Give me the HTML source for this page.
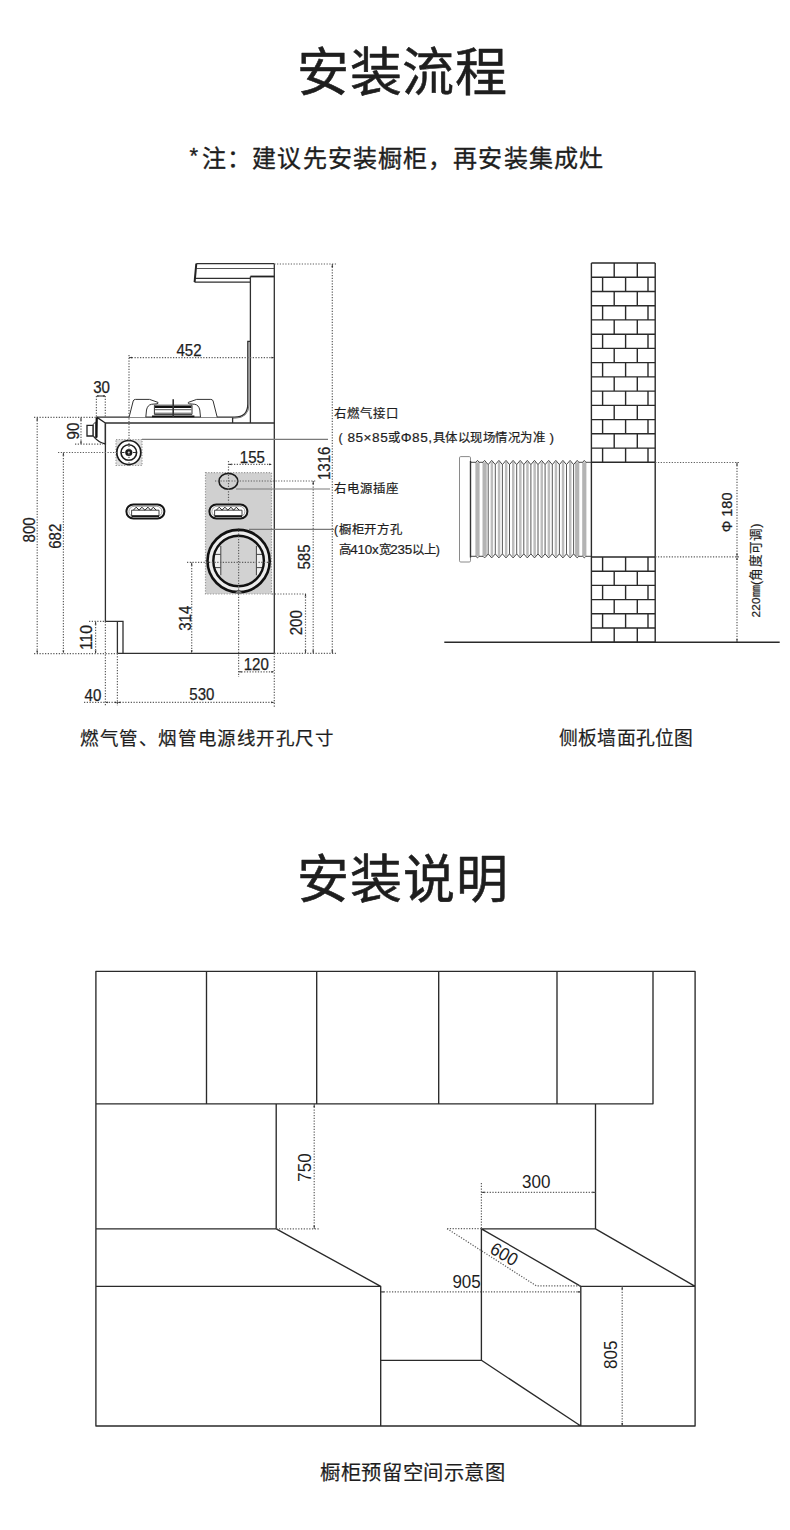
<!DOCTYPE html>
<html lang="zh-CN">
<head>
<meta charset="utf-8">
<title>安装流程</title>
<style>
html,body{margin:0;padding:0;background:#fff;}
body{width:790px;height:1530px;overflow:hidden;position:relative;font-family:"Liberation Sans",sans-serif;color:#1e1e1e;}
svg{position:absolute;left:0;top:0;}
svg text{font-family:"Liberation Sans",sans-serif;}
.t{fill:#1e1e1e;}
.tb{stroke:#1e1e1e;stroke-width:0.55;stroke-linejoin:round;}
.tm{stroke:#1e1e1e;stroke-width:0.35;stroke-linejoin:round;}
.ln{stroke:#2f2f2f;stroke-width:1.3;fill:none;}
.dt{stroke:#5e5e5e;stroke-width:1.2;stroke-dasharray:1.25 1.5;fill:none;}
.ts{stroke:#1e1e1e;stroke-width:0.25;}
.ts2{stroke:#1e1e1e;stroke-width:0.2;}
.gl{stroke:#888;stroke-width:1;fill:none;}
</style>
</head>
<body>
<svg width="790" height="1530" viewBox="0 0 790 1530">
<!-- Titles -->
<text class="t tb" x="296.8" y="91.3" font-size="52" textLength="210.3" lengthAdjust="spacing">安装流程</text>
<text class="t tm" x="189.4" y="162.6" font-size="22">*</text>
<text class="t tm" x="202" y="167" font-size="24" textLength="401" lengthAdjust="spacing">注：建议先安装橱柜，再安装集成灶</text>
<text class="t tb" x="296.8" y="898.3" font-size="52" textLength="210.8" lengthAdjust="spacing">安装说明</text>

<!-- Captions -->
<text class="t ts2" x="80" y="745" font-size="18.5" textLength="254" lengthAdjust="spacing">燃气管、烟管电源线开孔尺寸</text>
<text class="t ts2" x="559" y="745" font-size="18.8" textLength="134" lengthAdjust="spacing">侧板墙面孔位图</text>
<text class="t ts2" x="320" y="1480" font-size="20.3" textLength="185" lengthAdjust="spacing">橱柜预留空间示意图</text>

<!-- ============ UPPER LEFT DIAGRAM ============ -->
<g id="stove">
<defs>
<clipPath id="innerc"><circle cx="238.6" cy="561" r="24.5"/></clipPath>
</defs>
<!-- gray regions -->
<rect x="205.5" y="472.7" width="66" height="121.3" fill="#d0d0d0"/>
<rect x="205.5" y="472.7" width="66" height="121.3" class="dt" style="stroke:#999"/>
<rect x="116" y="439.5" width="26" height="26" fill="#dedede"/>
<rect x="116" y="439.5" width="26" height="26" class="dt" style="stroke:#999"/>
<!-- hood -->
<path class="ln" d="M196.3,263.7H274.3 M195.1,278.3H250.4 M194.6,282.2H250.4"/>
<path stroke="#555" stroke-width="1.1" fill="none" d="M196.3,268.5H274.3"/>
<path stroke="#222" stroke-width="2" fill="none" d="M196.3,263.7L194.6,282.2"/>
<path stroke="#222" stroke-width="1.8" fill="none" d="M250.4,276.5H274.3"/>
<path class="ln" d="M250.4,276.5V423 M274.3,263.7V653.3"/>
<!-- back panel -->
<path class="ln" d="M97,417.2H234.5Q247.8,417.2 247.8,404V341.5H250.4"/>
<path stroke="#777" stroke-width="1" fill="none" d="M249,343V404Q249,418.2 234.5,418.2H233"/>
<path class="ln" d="M232.6,417.5V423"/>
<!-- countertop -->
<path class="ln" d="M105.4,423H274.3"/>
<!-- front lip & knob -->
<path stroke="#222" stroke-width="1.3" fill="#fff" d="M97,417.4L105.4,423V444Q99,442.5 94.6,437.6L96.2,437.4Z"/>
<path stroke="#111" stroke-width="2" fill="none" d="M96.6,417.6V437.5"/>
<path stroke="#333" stroke-width="1" fill="#fff" d="M93,424.5L95.6,422V437.6L93,436Z"/>
<path stroke="#222" stroke-width="1.3" fill="#fff" d="M87,425.3H93V436H87Z"/>
<!-- burner -->
<path stroke="#333" stroke-width="1" fill="#fff" d="M129.1,417.2L133.2,401Q133.7,399.4 135.5,399.4L149.6,399.4L158,402.4Q158.5,403.6 157,403.8L151.5,404.3Q147.5,405 146.5,410L145.8,417.2"/>
<path stroke="#333" stroke-width="1" fill="#fff" d="M217.2,417.2L213.1,401Q212.6,399.4 210.8,399.4L196.7,399.4L188.3,402.4Q187.8,403.6 189.3,403.8L194.8,404.3Q198.8,405 199.8,410L200.5,417.2"/>
<path stroke="#333" stroke-width="1" fill="#fff" d="M154.4,405.2H192V414.4H154.4Z"/>
<path stroke="#111" stroke-width="2.2" fill="none" d="M155,407H191.4"/>
<path stroke="#444" stroke-width="0.9" fill="none" d="M155,409.7H191.4 M155,413.2H191.4"/>
<path stroke="#111" stroke-width="1.8" fill="none" d="M152,416.3H194.4"/>
<path stroke="#333" stroke-width="1.6" fill="none" d="M173.2,399.2V417"/>
<!-- cabinet body -->
<path class="ln" d="M105.4,423V621.4H123V653.3 M117.4,621.4V653.3 M117.4,653.3H274.3"/>
<!-- gas connector -->
<circle cx="128.8" cy="452.5" r="12" fill="#fff" stroke="#1a1a1a" stroke-width="1.7"/>
<circle cx="128.8" cy="452.5" r="7.8" fill="#fff" stroke="#1a1a1a" stroke-width="1.6"/>
<circle cx="128.8" cy="452.5" r="3.6" fill="#1a1a1a"/>
<circle cx="128.8" cy="452.5" r="1.1" fill="#fff"/>
<path stroke="#333" stroke-width="1" fill="none" d="M121.5,452.5H124.5 M133,452.5H136"/>
<!-- knobs -->
<g id="knob">
<rect x="126.4" y="504.5" width="38" height="14" rx="7" fill="#fff" stroke="#151515" stroke-width="2"/>
<rect x="128.9" y="506.3" width="33" height="10.4" rx="5.2" fill="#fff" stroke="#888" stroke-width="0.8"/>
<path stroke="#333" stroke-width="0.9" fill="#fff" d="M131.6,510.2H159V515.8H131.6Z"/>
<path stroke="#111" stroke-width="1.5" fill="none" d="M131.6,516.2H159"/>
<path stroke="#222" stroke-width="1" fill="none" d="M133.3,510.2L136.2,507.2L139.1,510.2L141.9,507.2L144.9,510.2L148,507.2L150.6,510.2L153.3,507.2L156.2,510.2"/>
</g>
<g transform="translate(83,0)">
<rect x="126.4" y="504.5" width="38" height="14" rx="7" fill="#fff" stroke="#151515" stroke-width="2"/>
<rect x="128.9" y="506.3" width="33" height="10.4" rx="5.2" fill="#fff" stroke="#888" stroke-width="0.8"/>
<path stroke="#333" stroke-width="0.9" fill="#fff" d="M131.6,510.2H159V515.8H131.6Z"/>
<path stroke="#111" stroke-width="1.5" fill="none" d="M131.6,516.2H159"/>
<path stroke="#222" stroke-width="1" fill="none" d="M133.3,510.2L136.2,507.2L139.1,510.2L141.9,507.2L144.9,510.2L148,507.2L150.6,510.2L153.3,507.2L156.2,510.2"/>
</g>
<!-- socket -->
<ellipse cx="228.4" cy="481.3" rx="9.4" ry="7.9" fill="#d0d0d0" stroke="#1a1a1a" stroke-width="1.6"/>
<!-- big circle -->
<circle cx="238.6" cy="561" r="31.1" fill="#ececec" stroke="#111" stroke-width="2.6"/>
<circle cx="238.6" cy="561" r="24.5" fill="#d2d2d2"/>
<g clip-path="url(#innerc)">
<rect x="212" y="546" width="8.8" height="29.2" fill="#f0f0f0"/>
<rect x="256.4" y="546" width="8.8" height="29.2" fill="#f0f0f0"/>
<path stroke="#444" stroke-width="1" fill="none" d="M220.8,546V575.2 M256.4,546V575.2 M212,554.4H220.8 M212,567.6H220.8 M256.4,554.4H265.2 M256.4,567.6H265.2"/>
</g>
<circle cx="238.6" cy="561" r="25.3" fill="none" stroke="#111" stroke-width="2.4"/>
<path stroke="#222" stroke-width="1" fill="#ddd" d="M235,592.6Q238.6,588.8 242.2,592.6"/>
<!-- dims dotted -->
<path class="dt" d="M274.3,264H336 M332.3,264V653.3 M274.3,653.3H336
M129,355V466 M129,357.6H274.3
M96.4,396V417 M105.3,396V417
M75,444.2H103 M81,417.4V444.2
M34,417.4H96 M37.2,417.4V653.6 M34,653.6H117.4
M58,452.5H117 M63.4,452.5V653.6
M89,621.4H105 M95.6,621.4V653.6
M105.4,621.4V706 M117.4,653.6V706 M84,702.4H274.3 M274.3,653.3V708
M238.6,528V677 M238.6,671.8H274.3
M187,562.4H270 M191.7,562.4V653.3
M272,594H306 M305.5,594V653.3
M215,481H316 M313.2,481V653.3
M228.5,461V502.5 M228.5,464.4H272
"/>
<path stroke="#333" stroke-width="1.1" fill="none" d="M97,396H105"/>
<path fill="#333" d="M37.2,417.4L36.300000000000004,420.4L38.1,420.4Z M37.2,653.6L36.300000000000004,650.6L38.1,650.6Z M63.4,452.5L62.5,455.5L64.3,455.5Z M63.4,653.6L62.5,650.6L64.3,650.6Z M81,417.4L80.1,420.4L81.9,420.4Z M81,444.2L80.1,441.2L81.9,441.2Z M95.6,621.4L94.69999999999999,624.4L96.5,624.4Z M95.6,653.6L94.69999999999999,650.6L96.5,650.6Z M191.7,562.4L190.79999999999998,565.4L192.6,565.4Z M191.7,653.3L190.79999999999998,650.3L192.6,650.3Z M305.5,593.6L304.6,596.6L306.4,596.6Z M305.5,653.3L304.6,650.3L306.4,650.3Z M313.2,481L312.3,484L314.09999999999997,484Z M313.2,653.3L312.3,650.3L314.09999999999997,650.3Z M332.3,264L331.40000000000003,267L333.2,267Z M332.3,653.3L331.40000000000003,650.3L333.2,650.3Z M129,357.6L132,356.70000000000005L132,358.5Z M274.3,357.6L271.3,356.70000000000005L271.3,358.5Z M96.4,396L98.4,395.1L98.4,396.9Z M105.3,396L103.3,395.1L103.3,396.9Z M228.5,464.4L231.5,463.5L231.5,465.29999999999995Z M272,464.4L269,463.5L269,465.29999999999995Z M238.6,671.8L241.6,670.9L241.6,672.6999999999999Z M274.3,671.8L271.3,670.9L271.3,672.6999999999999Z M105.4,702.4L107.9,701.5L107.9,703.3Z M117.4,702.4L114.9,701.5L114.9,703.3Z M117.4,702.4L120.4,701.5L120.4,703.3Z M274.3,702.4L271.3,701.5L271.3,703.3Z"/>
<!-- leaders -->
<path stroke="#7a7a7a" stroke-width="1.1" fill="none" d="M142,439.4H328 M236,489H330 M249,529.4H334"/>
<!-- labels -->
<g class="t ts" font-size="16.2" text-anchor="middle">
<text x="189" y="356.3" textLength="25.1" lengthAdjust="spacingAndGlyphs">452</text>
<text x="101.6" y="392.7" textLength="16.8" lengthAdjust="spacingAndGlyphs">30</text>
<text x="252.4" y="462.7" textLength="25.1" lengthAdjust="spacingAndGlyphs">155</text>
<text x="256.3" y="669.7" textLength="25.1" lengthAdjust="spacingAndGlyphs">120</text>
<text x="93" y="700.5" textLength="16.8" lengthAdjust="spacingAndGlyphs">40</text>
<text x="201.9" y="700.3" textLength="25.1" lengthAdjust="spacingAndGlyphs">530</text>
<text transform="translate(78.6,431) rotate(-90)" textLength="16.8" lengthAdjust="spacingAndGlyphs">90</text>
<text transform="translate(35,529.9) rotate(-90)" textLength="25.1" lengthAdjust="spacingAndGlyphs">800</text>
<text transform="translate(60.8,536.2) rotate(-90)" textLength="25.1" lengthAdjust="spacingAndGlyphs">682</text>
<text transform="translate(92,637.5) rotate(-90)" textLength="25.1" lengthAdjust="spacingAndGlyphs">110</text>
<text transform="translate(190.8,618.2) rotate(-90)" textLength="25.1" lengthAdjust="spacingAndGlyphs">314</text>
<text transform="translate(302,622.8) rotate(-90)" textLength="25.1" lengthAdjust="spacingAndGlyphs">200</text>
<text transform="translate(310,557) rotate(-90)" textLength="25.1" lengthAdjust="spacingAndGlyphs">585</text>
<text transform="translate(330.2,463.3) rotate(-90)" textLength="33.5" lengthAdjust="spacingAndGlyphs">1316</text>
</g>
<g class="t ts2" font-size="12.4">
<text x="334.4" y="417.6" textLength="64" lengthAdjust="spacing">右燃气接口</text>
<text x="338.5" y="441.8" textLength="215.5" lengthAdjust="spacing">(<tspan font-size="13.6"> 85×85</tspan>或<tspan font-size="13.6">Φ85,</tspan>具体以现场情况为准<tspan font-size="13.6"> )</tspan></text>
<text x="334" y="493.2" textLength="64" lengthAdjust="spacing">右电源插座</text>
<text x="334" y="533.8" textLength="67.6" lengthAdjust="spacing">(橱柜开方孔</text>
<text x="338.5" y="553.5" textLength="101.3" lengthAdjust="spacing">高<tspan font-size="13.4">410x</tspan>宽<tspan font-size="13.4">235</tspan>以上)</text>
</g>
</g>

<!-- ============ UPPER RIGHT DIAGRAM ============ -->
<g id="wall">
<rect x="459.5" y="456.6" width="11" height="105.4" rx="1.2" fill="#fff" stroke="#8a8a8a" stroke-width="1"/>
<rect x="475.4" y="462.3" width="4.2" height="94.0" fill="#b4b4b4"/>
<rect x="482.5" y="462.3" width="4.2" height="94.0" fill="#b4b4b4"/>
<rect x="490.6" y="461.9" width="2.5" height="94.5" fill="#bdbdbd"/>
<rect x="497.8" y="461.9" width="2.5" height="94.5" fill="#bdbdbd"/>
<rect x="504.9" y="461.9" width="2.5" height="94.5" fill="#bdbdbd"/>
<rect x="512.0" y="461.9" width="2.5" height="94.5" fill="#bdbdbd"/>
<rect x="519.1" y="461.9" width="2.5" height="94.5" fill="#bdbdbd"/>
<rect x="526.2" y="461.9" width="2.5" height="94.5" fill="#bdbdbd"/>
<rect x="533.4" y="461.9" width="2.5" height="94.5" fill="#bdbdbd"/>
<rect x="540.5" y="461.9" width="2.5" height="94.5" fill="#bdbdbd"/>
<rect x="547.6" y="461.9" width="2.5" height="94.5" fill="#bdbdbd"/>
<rect x="554.7" y="461.9" width="2.5" height="94.5" fill="#bdbdbd"/>
<rect x="561.8" y="461.9" width="2.5" height="94.5" fill="#bdbdbd"/>
<rect x="569.0" y="461.9" width="2.5" height="94.5" fill="#bdbdbd"/>
<rect x="575.1" y="462.3" width="4.2" height="94.0" fill="#b4b4b4"/>
<rect x="582.2" y="462.3" width="4.2" height="94.0" fill="#b4b4b4"/>
<path stroke="#333" stroke-width="0.9" fill="none" stroke-linejoin="round" d="M470.5,462.3 L475.9,462.3 L477.5,460.4 L479.1,462.3 L483.0,462.3 L484.6,460.4 L486.2,462.3 L488.2,464.6 L491.7,460.4 L495.3,464.6 L498.9,460.4 L502.4,464.6 L506.0,460.4 L509.5,464.6 L513.1,460.4 L516.7,464.6 L520.2,460.4 L523.8,464.6 L527.3,460.4 L530.9,464.6 L534.5,460.4 L538.0,464.6 L541.6,460.4 L545.1,464.6 L548.7,460.4 L552.3,464.6 L555.8,460.4 L559.4,464.6 L562.9,460.4 L566.5,464.6 L570.1,460.4 L573.6,464.6 L577.2,460.4 L578.8,462.3 L582.7,462.3 L584.3,460.4 L585.9,462.3 L591.4,462.3 M470.5,556.3 L475.9,556.3 L477.5,557.9 L479.1,556.3 L483.0,556.3 L484.6,557.9 L486.2,556.3 L488.2,553.9 L491.7,557.9 L495.3,553.9 L498.9,557.9 L502.4,553.9 L506.0,557.9 L509.5,553.9 L513.1,557.9 L516.7,553.9 L520.2,557.9 L523.8,553.9 L527.3,557.9 L530.9,553.9 L534.5,557.9 L538.0,553.9 L541.6,557.9 L545.1,553.9 L548.7,557.9 L552.3,553.9 L555.8,557.9 L559.4,553.9 L562.9,557.9 L566.5,553.9 L570.1,557.9 L573.6,553.9 L577.2,557.9 L578.8,556.3 L582.7,556.3 L584.3,557.9 L585.9,556.3 L591.4,556.3"/>
<path stroke="#444" stroke-width="0.9" fill="none" d="M488.2,464.6V553.9 M495.3,464.6V553.9 M502.4,464.6V553.9 M509.5,464.6V553.9 M516.7,464.6V553.9 M523.8,464.6V553.9 M530.9,464.6V553.9 M538.0,464.6V553.9 M545.1,464.6V553.9 M552.3,464.6V553.9 M559.4,464.6V553.9 M566.5,464.6V553.9 M573.6,464.6V553.9"/>
<path stroke="#333" stroke-width="1.4" fill="none" d="M470.5,461V557.5"/>
<path stroke="#2a2a2a" stroke-width="1.4" fill="none" d="M591.4,263.0H655.2 M591.4,277.2H655.2 M591.4,291.5H655.2 M591.4,305.7H655.2 M591.4,319.9H655.2 M591.4,334.2H655.2 M591.4,348.4H655.2 M591.4,362.6H655.2 M591.4,376.9H655.2 M591.4,391.1H655.2 M591.4,405.4H655.2 M591.4,419.6H655.2 M591.4,433.8H655.2 M591.4,448.1H655.2 M591.4,462.3H655.2 M614.2,263.0V277.2 M637.3,263.0V277.2 M602.6,277.2V291.5 M625.6,277.2V291.5 M648.0,277.2V291.5 M614.2,291.5V305.7 M637.3,291.5V305.7 M602.6,305.7V319.9 M625.6,305.7V319.9 M648.0,305.7V319.9 M614.2,319.9V334.2 M637.3,319.9V334.2 M602.6,334.2V348.4 M625.6,334.2V348.4 M648.0,334.2V348.4 M614.2,348.4V362.6 M637.3,348.4V362.6 M602.6,362.6V376.9 M625.6,362.6V376.9 M648.0,362.6V376.9 M614.2,376.9V391.1 M637.3,376.9V391.1 M602.6,391.1V405.4 M625.6,391.1V405.4 M648.0,391.1V405.4 M614.2,405.4V419.6 M637.3,405.4V419.6 M602.6,419.6V433.8 M625.6,419.6V433.8 M648.0,419.6V433.8 M614.2,433.8V448.1 M637.3,433.8V448.1 M602.6,448.1V462.3 M625.6,448.1V462.3 M648.0,448.1V462.3 M591.4,557.0H655.2 M591.4,571.2H655.2 M591.4,585.4H655.2 M591.4,599.6H655.2 M591.4,613.8H655.2 M591.4,628.0H655.2 M591.4,642.2H655.2 M602.6,557.0V571.2 M625.6,557.0V571.2 M648.0,557.0V571.2 M614.2,571.2V585.4 M637.3,571.2V585.4 M602.6,585.4V599.6 M625.6,585.4V599.6 M648.0,585.4V599.6 M614.2,599.6V613.8 M637.3,599.6V613.8 M602.6,613.8V628.0 M625.6,613.8V628.0 M648.0,613.8V628.0 M614.2,628.0V642.2 M637.3,628.0V642.2 M591.4,263.0V642.2 M655.2,263.0V642.2"/>
<path class="dt" d="M655.2,462.5H740 M655.2,556.8H740 M737,462.5V642"/>
<path stroke="#2a2a2a" stroke-width="1.4" fill="none" d="M444.3,642.2H779.7"/>
<g class="t ts" font-size="14.5"><text transform="translate(732.2,512.4) rotate(-90)" text-anchor="middle">Φ 180</text></g>
<g class="t ts2" font-size="12.6"><text transform="translate(759.6,617.6) rotate(-90)" textLength="94" lengthAdjust="spacing"><tspan font-size="11.8">220</tspan><tspan font-size="12">㎜</tspan>(角度可调)</text></g>
<path fill="#333" d="M737,462.5L736.1,465.5L737.9,465.5Z M737,556.8L736.1,553.8L737.9,553.8Z M737,556.8L736.1,559.8L737.9,559.8Z M737,642.2L736.1,639.2L737.9,639.2Z"/>
</g>


<!-- ============ BOTTOM DIAGRAM ============ -->
<g id="cab">
<path stroke="#2a2a2a" stroke-width="1.35" fill="none" stroke-linejoin="round" d="M95.9,971.3H695.1V1426H95.9Z
M95.9,1103.8H653V971.3 M206.5,971.3V1103.8 M316.7,971.3V1103.8 M438.7,971.3V1103.8 M557,971.3V1103.8
M276.2,1103.8V1228.8H95.9 M276.2,1228.8L380.7,1286.3H95.9 M380.7,1286.3V1426
M380.7,1360.3H481.4V1228.8H595.5V1103.8 M481.4,1360.3L580.8,1426V1286.3H695.1 M595.5,1228.8L695.1,1286.3 M481.4,1228.8L580.8,1286.3"/>
<path class="dt" d="M314.2,1104V1228.8 M276.2,1228.8H319
M481.4,1183V1228.8 M481.4,1192.3H595.5
M447.1,1228.7H481.4 M447.1,1228.7L536.2,1285.8H580.8
M381,1291.9H580.8 M622.2,1286.3V1426"/>
<path fill="#333" d="M314.2,1104L313.3,1107L315.09999999999997,1107Z M314.2,1228.8L313.3,1225.8L315.09999999999997,1225.8Z M622.2,1286.3L621.3000000000001,1289.3L623.1,1289.3Z M622.2,1426L621.3000000000001,1423L623.1,1423Z M481.4,1192.3L484.4,1191.3999999999999L484.4,1193.2Z M595.5,1192.3L592.5,1191.3999999999999L592.5,1193.2Z M380.7,1291.9L383.7,1291.0L383.7,1292.8000000000002Z M580.8,1291.9L577.8,1291.0L577.8,1292.8000000000002Z"/>
<g class="t" font-size="18.3" text-anchor="middle">
<text transform="translate(311,1167.5) rotate(-90)" textLength="28.4" lengthAdjust="spacingAndGlyphs">750</text>
<text x="536.2" y="1187.9" textLength="28.4" lengthAdjust="spacingAndGlyphs">300</text>
<text x="466.6" y="1288.1" textLength="28.4" lengthAdjust="spacingAndGlyphs">905</text>
<text transform="translate(616.6,1354.7) rotate(-90)" textLength="28.4" lengthAdjust="spacingAndGlyphs">805</text>
<text transform="translate(504.3,1254) rotate(29.9)" dy="6.5" textLength="28.4" lengthAdjust="spacingAndGlyphs">600</text>
</g>
</g>

</svg>
</body>
</html>
